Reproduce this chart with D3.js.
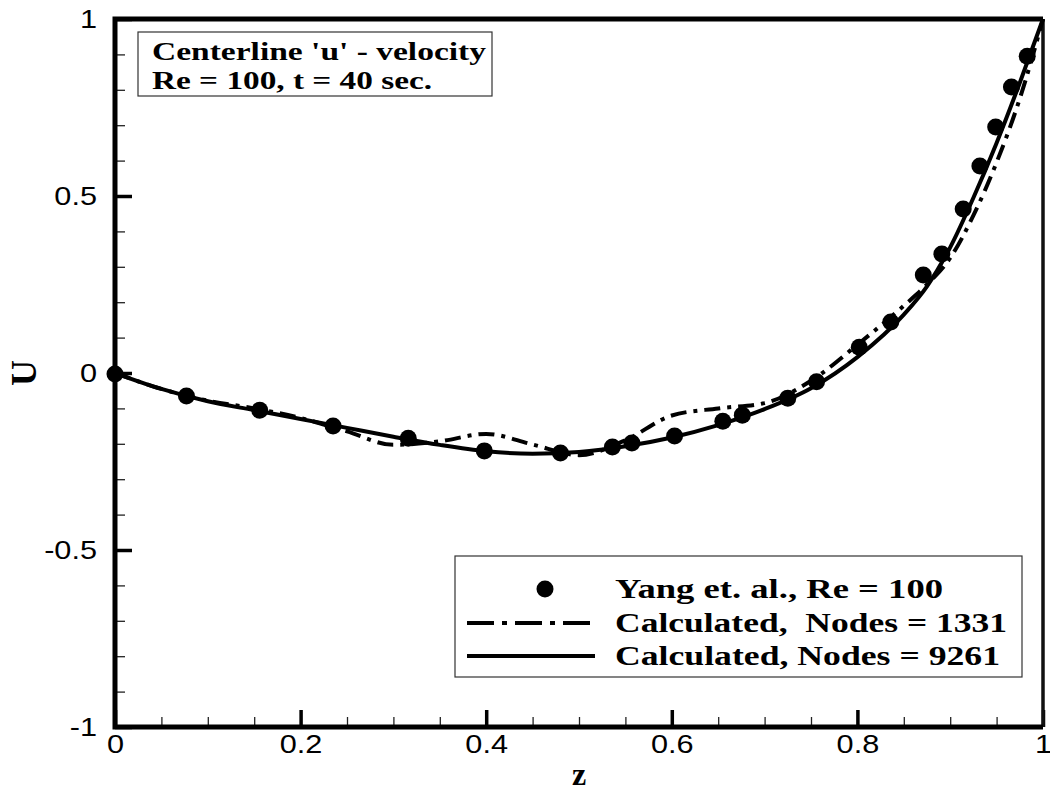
<!DOCTYPE html>
<html>
<head>
<meta charset="utf-8">
<script src="https://cdn.jsdelivr.net/npm/d3@7"></script>
<style>
  body { margin: 0; background: #fff; }
  svg { display: block; }
</style>
</head>
<body>
<div id="chart"></div>
<script>
// Data
const yangZ = [0, 0.077, 0.156, 0.235, 0.316, 0.398, 0.480, 0.536, 0.557, 0.603, 0.655, 0.676,
  0.725, 0.756, 0.802, 0.836, 0.871, 0.891, 0.914, 0.932, 0.949, 0.966, 0.983];
const yangU = [-0.003, -0.065, -0.105, -0.15, -0.184, -0.22, -0.226, -0.209, -0.198, -0.178, -0.136, -0.119,
  -0.071, -0.025, 0.073, 0.144, 0.277, 0.336, 0.463, 0.585, 0.695, 0.808, 0.895];

const calcZ = [0, 0.05, 0.1, 0.15, 0.2, 0.25, 0.3, 0.35, 0.4, 0.45, 0.5, 0.55, 0.6, 0.65,
  0.7, 0.75, 0.8, 0.85, 0.875, 0.9, 0.925, 0.95, 0.975, 1];
const nodes9261 = [0, -0.045, -0.08, -0.105, -0.13, -0.155, -0.18, -0.203, -0.221, -0.228, -0.223, -0.207,
  -0.182, -0.147, -0.102, -0.043, 0.045, 0.165, 0.245, 0.355, 0.495, 0.65, 0.82, 1];
const nodes1331 = [0, -0.045, -0.078, -0.1, -0.127, -0.165, -0.203, -0.193, -0.172, -0.202, -0.232, -0.19,
  -0.12, -0.1, -0.085, -0.022, 0.08, 0.19, 0.25, 0.325, 0.445, 0.595, 0.775, 1];

const xMajor = [0, 0.2, 0.4, 0.6, 0.8, 1];
const yMajor = [-1, -0.5, 0, 0.5, 1];

const legendLabels = ["Yang et. al., Re = 100", "Calculated,  Nodes = 1331", "Calculated, Nodes = 9261"];
const titleLines = ["Centerline 'u' - velocity", "Re = 100, t = 40 sec."];

const W = 1050, H = 793;
const plot = { left: 115, right: 1043, top: 19, bottom: 727 };

const svg = d3.select("#chart").append("svg")
  .attr("width", W)
  .attr("height", H);

const x = d3.scaleLinear().domain([0, 1]).range([plot.left, plot.right]);
const y = d3.scaleLinear().domain([-1, 1]).range([plot.bottom, plot.top]);

const tickFont = "'Liberation Sans', Arial, sans-serif";
const serif = "'Liberation Serif', 'Times New Roman', serif";

// stretch text horizontally, the original fonts are wider
function widen(sel, k) {
  sel.each(function() {
    const len = this.getComputedTextLength();
    d3.select(this).attr("textLength", len * k).attr("lengthAdjust", "spacingAndGlyphs");
  });
}

// minor ticks
svg.append("g")
  .attr("transform", `translate(0,${plot.bottom})`)
  .call(d3.axisBottom(x).tickValues(d3.range(0, 1.0001, 0.05)).tickSize(-10).tickFormat(""))
  .call(g => g.select(".domain").remove())
  .call(g => g.selectAll("line").attr("stroke", "#222").attr("stroke-width", 1.3));

svg.append("g")
  .attr("transform", `translate(${plot.left},0)`)
  .call(d3.axisLeft(y).tickValues(d3.range(-1, 1.0001, 0.1)).tickSize(-10).tickFormat(""))
  .call(g => g.select(".domain").remove())
  .call(g => g.selectAll("line").attr("stroke", "#222").attr("stroke-width", 1.3));

// major ticks + labels
svg.append("g")
  .attr("transform", `translate(0,${plot.bottom})`)
  .call(d3.axisBottom(x).tickValues(xMajor).tickSize(-17).tickPadding(8).tickFormat(d => String(d)))
  .call(g => g.select(".domain").remove())
  .call(g => g.selectAll("line").attr("stroke", "#000").attr("stroke-width", 3.5))
  .call(g => g.selectAll("text")
    .attr("font-family", tickFont).attr("font-size", 26).attr("fill", "#000")
    .call(widen, 1.18));

svg.append("g")
  .attr("transform", `translate(${plot.left},0)`)
  .call(d3.axisLeft(y).tickValues(yMajor).tickSize(-17).tickPadding(18).tickFormat(d => String(d)))
  .call(g => g.select(".domain").remove())
  .call(g => g.selectAll("line").attr("stroke", "#000").attr("stroke-width", 3.5))
  .call(g => g.selectAll("text")
    .attr("font-family", tickFont).attr("font-size", 26).attr("fill", "#000")
    .call(widen, 1.18));

// frame
svg.append("line").attr("x1", plot.right).attr("x2", plot.right).attr("y1", plot.top).attr("y2", plot.bottom)
  .attr("stroke", "#111").attr("stroke-width", 3.5);
svg.append("path")
  .attr("d", `M${plot.right},${plot.top}H${plot.left}V${plot.bottom}H${plot.right}`)
  .attr("fill", "none").attr("stroke", "#000").attr("stroke-width", 5);

// curves
const line = d3.line()
  .x(d => x(d[0]))
  .y(d => y(d[1]))
  .curve(d3.curveMonotoneX);

svg.append("path")
  .datum(calcZ.map((z, i) => [z, nodes1331[i]]))
  .attr("d", line)
  .attr("fill", "none").attr("stroke", "#000").attr("stroke-width", 4)
  .attr("stroke-dasharray", "16,7,4,7");

svg.append("path")
  .datum(calcZ.map((z, i) => [z, nodes9261[i]]))
  .attr("d", line)
  .attr("fill", "none").attr("stroke", "#000").attr("stroke-width", 4);

svg.selectAll(".yang")
  .data(yangZ.map((z, i) => [z, yangU[i]]))
  .enter().append("circle")
  .attr("class", "yang")
  .attr("cx", d => x(d[0]))
  .attr("cy", d => y(d[1]))
  .attr("r", 8.5)
  .attr("fill", "#000");

// axis titles
svg.append("text")
  .attr("x", 579).attr("y", 785)
  .attr("text-anchor", "middle")
  .attr("font-family", serif).attr("font-weight", "bold").attr("font-size", 32)
  .text("z");

svg.append("text")
  .attr("transform", "translate(36,373) rotate(-90)")
  .attr("text-anchor", "middle")
  .attr("font-family", serif).attr("font-weight", "bold").attr("font-size", 36)
  .text("U");

// title box
svg.append("rect")
  .attr("x", 138).attr("y", 32).attr("width", 354).attr("height", 64)
  .attr("fill", "#fff").attr("stroke", "#333").attr("stroke-width", 1.2);

const titleWidths = [334, 280];
svg.selectAll(".title")
  .data(titleLines)
  .enter().append("text")
  .attr("class", "title")
  .attr("x", 152)
  .attr("y", (d, i) => 59.5 + i * 29)
  .attr("font-family", serif).attr("font-weight", "bold").attr("font-size", 26)
  .attr("textLength", (d, i) => titleWidths[i])
  .attr("lengthAdjust", "spacingAndGlyphs")
  .text(d => d);

// legend
const legend = svg.append("g");
legend.append("rect")
  .attr("x", 455).attr("y", 556).attr("width", 567).attr("height", 121)
  .attr("fill", "#fff").attr("stroke", "#333").attr("stroke-width", 1.2);

const rowY = [589, 623, 656];
const legendWidths = [328, 392, 385];

legend.append("circle")
  .attr("cx", 545).attr("cy", rowY[0]).attr("r", 8.5).attr("fill", "#000");
legend.append("line")
  .attr("x1", 467).attr("x2", 595).attr("y1", rowY[1]).attr("y2", rowY[1])
  .attr("stroke", "#000").attr("stroke-width", 4).attr("stroke-dasharray", "27,8,5,8");
legend.append("line")
  .attr("x1", 467).attr("x2", 595).attr("y1", rowY[2]).attr("y2", rowY[2])
  .attr("stroke", "#000").attr("stroke-width", 4);

legend.selectAll(".leg-text")
  .data(legendLabels)
  .enter().append("text")
  .attr("class", "leg-text")
  .attr("x", 615)
  .attr("y", (d, i) => rowY[i] + 9)
  .attr("font-family", serif).attr("font-weight", "bold").attr("font-size", 28)
  .style("white-space", "pre")
  .attr("textLength", (d, i) => legendWidths[i])
  .attr("lengthAdjust", "spacingAndGlyphs")
  .text(d => d);
</script>
</body>
</html>
